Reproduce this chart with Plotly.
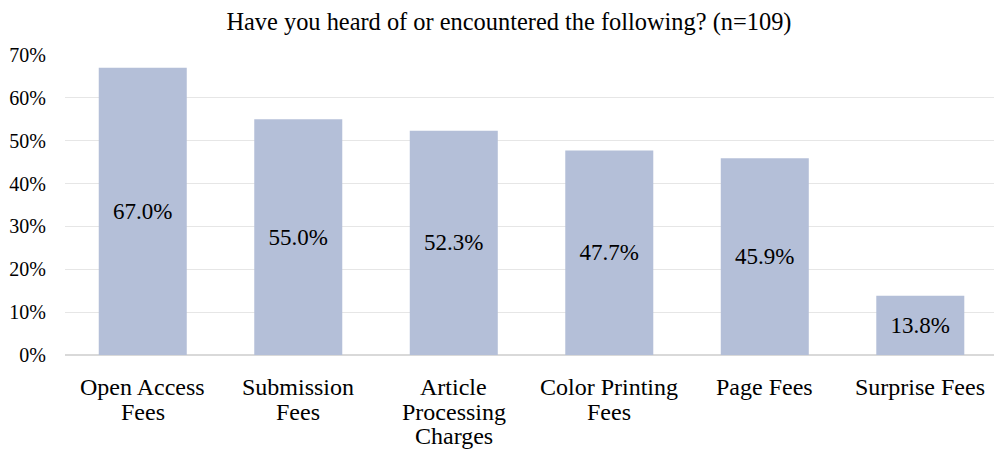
import plotly.graph_objects as go

categories = ["Open Access|Fees", "Submission|Fees", "Article|Processing|Charges",
              "Color Printing|Fees", "Page Fees", "Surprise Fees"]
values = [67.0, 55.0, 52.3, 47.7, 45.9, 13.8]
tick_values = [0, 10, 20, 30, 40, 50, 60, 70]
tick_labels = ["0%", "10%", "20%", "30%", "40%", "50%", "60%", "70%"]

FONT = "Liberation Serif, Times New Roman, serif"
LINE_GAP = 24.5      # baseline spacing of the wrapped category labels
FIRST_LINE = 32      # distance from the zero line to the first label line

x_keys = [c.replace("|", " ") for c in categories]

fig = go.Figure(go.Bar(
    x=x_keys,
    y=values,
    width=0.566,
    marker=dict(color="#b4bfd8", line=dict(width=0)),
    text=[f"{v:.1f}%" for v in values],
    textposition="inside",
    insidetextanchor="middle",
    textfont=dict(family=FONT, size=23, color="#000000"),
    textangle=0,
))

# Category labels, one annotation per wrapped line so the line spacing stays tight
for key, cat in zip(x_keys, categories):
    for i, line in enumerate(cat.split("|")):
        fig.add_annotation(
            x=key, xref="x", y=0, yref="paper",
            text=line, showarrow=False,
            xanchor="center", yanchor="middle",
            yshift=-(FIRST_LINE + i * LINE_GAP),
            font=dict(family=FONT, size=24, color="#000000"),
        )

fig.update_layout(
    width=994, height=454,
    margin=dict(l=65, r=0, t=55, b=99),
    paper_bgcolor="white", plot_bgcolor="white",
    font=dict(family=FONT, color="#000000"),
    title=dict(text="Have you heard of or encountered the following? (n=109)",
               x=0.512, xanchor="center", y=0.952, yanchor="middle",
               font=dict(family=FONT, size=24.4, color="#000000")),
    showlegend=False,
    uniformtext=dict(mode=False),
)
fig.update_xaxes(
    range=[-0.5, 5.474],
    showgrid=False, showline=False, ticks="", showticklabels=False,
)
fig.update_yaxes(
    range=[0, 70], tickvals=tick_values, ticktext=tick_labels,
    showgrid=True, gridcolor="#e6e6e6", gridwidth=1,
    zeroline=True, zerolinecolor="#d9d9d9", zerolinewidth=2,
    showline=False, ticks="", ticklabelstandoff=18,
    tickfont=dict(family=FONT, size=20, color="#000000"),
)

fig.write_html("out.html")
